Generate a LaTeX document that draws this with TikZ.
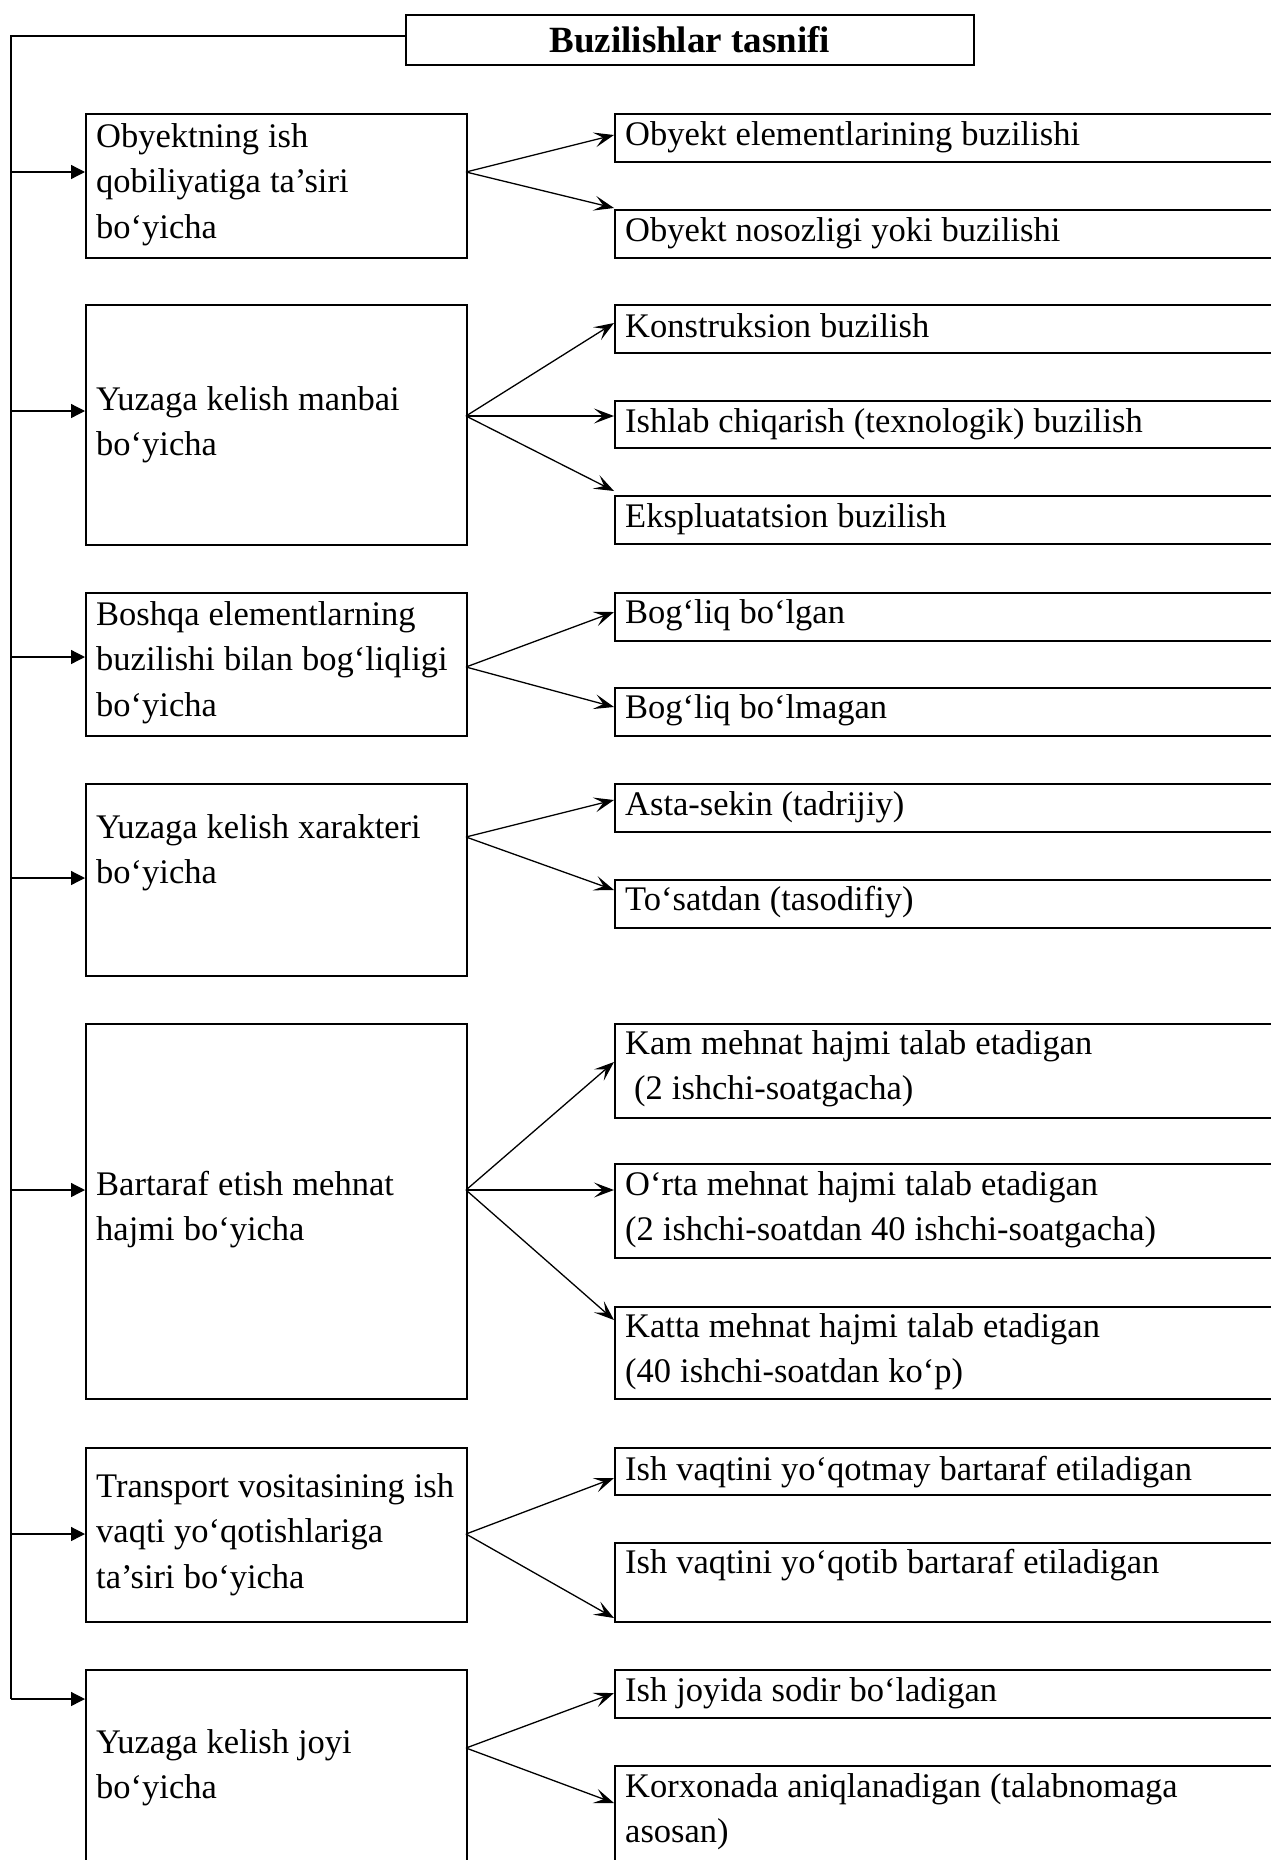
\documentclass[tikz,border=0pt]{standalone}
\usepackage{fontspec}
\setmainfont{Liberation Serif}
\usetikzlibrary{arrows.meta}
\newcommand{\bodyfont}{\fontsize{34.5pt}{45.7pt}\selectfont}
\newcommand{\tightspace}{\spaceskip=9pt plus 2pt minus 1pt\relax\xspaceskip=9pt\relax}
\begin{document}
\begin{tikzpicture}[x=1pt,y=-1pt,
  box/.style={draw, line width=1.6pt, rectangle, inner sep=0pt, anchor=north west},
  lbox/.style={box, minimum width=381pt},
  rbox/.style={box, minimum width=700pt},
  ltxt/.style={inner sep=0pt, anchor=base west, align=left, text width=420pt, font=\bodyfont, execute at begin node=\tightspace},
  rtxt/.style={inner sep=0pt, anchor=base west, align=left, text width=640pt, font=\bodyfont, execute at begin node=\tightspace},
  trunk/.style={line width=1.3pt},
  inarrow/.style={line width=1.3pt, -{Triangle[length=14pt,width=14pt]}},
  outarrow/.style={line width=1.3pt, -{Stealth[length=20pt,width=15pt,inset=9pt]}}
]
\useasboundingbox (0,0) rectangle (1271,1860);
\clip (0,0) rectangle (1271,1860);

% title
\node[box, minimum width=568pt, minimum height=50pt, font=\bfseries\fontsize{37pt}{44pt}\selectfont] (T) at (405,14) {Buzilishlar tasnifi};

% left boxes
\node[lbox, minimum height=144pt] (L1) at (85,113) {};
\node[lbox, minimum height=240pt] (L2) at (85,304) {};
\node[lbox, minimum height=143pt] (L3) at (85,592) {};
\node[lbox, minimum height=192pt] (L4) at (85,783) {};
\node[lbox, minimum height=375pt] (L5) at (85,1023) {};
\node[lbox, minimum height=174pt] (L6) at (85,1447) {};
\node[lbox, minimum height=231pt] (L7) at (85,1669) {};

\node[ltxt] (L1t) at (96,147) {Obyektning ish\\qobiliyatiga ta’siri\\bo‘yicha};
\node[ltxt] (L2t) at (96,410) {Yuzaga kelish manbai\\bo‘yicha};
\node[ltxt] (L3t) at (96,625) {Boshqa elementlarning\\buzilishi bilan bog‘liqligi\\bo‘yicha};
\node[ltxt] (L4t) at (96,838) {Yuzaga kelish xarakteri\\bo‘yicha};
\node[ltxt] (L5t) at (96,1195) {Bartaraf etish mehnat\\hajmi bo‘yicha};
\node[ltxt] (L6t) at (96,1497) {Transport vositasining ish\\vaqti yo‘qotishlariga\\ta’siri bo‘yicha};
\node[ltxt] (L7t) at (96,1753) {Yuzaga kelish joyi\\bo‘yicha};

% right boxes
\node[rbox, minimum height=48pt] (R1a) at (614,113) {};
\node[rbox, minimum height=48pt] (R1b) at (614,209) {};
\node[rbox, minimum height=48pt] (R2a) at (614,304) {};
\node[rbox, minimum height=47pt] (R2b) at (614,400) {};
\node[rbox, minimum height=48pt] (R2c) at (614,495) {};
\node[rbox, minimum height=48pt] (R3a) at (614,592) {};
\node[rbox, minimum height=48pt] (R3b) at (614,687) {};
\node[rbox, minimum height=48pt] (R4a) at (614,783) {};
\node[rbox, minimum height=48pt] (R4b) at (614,879) {};
\node[rbox, minimum height=94pt] (R5a) at (614,1023) {};
\node[rbox, minimum height=94pt] (R5b) at (614,1163) {};
\node[rbox, minimum height=92pt] (R5c) at (614,1306) {};
\node[rbox, minimum height=47pt] (R6a) at (614,1447) {};
\node[rbox, minimum height=79pt] (R6b) at (614,1542) {};
\node[rbox, minimum height=48pt] (R7a) at (614,1669) {};
\node[rbox, minimum height=135pt] (R7b) at (614,1765) {};

\node[rtxt] (R1at) at (625,145) {Obyekt elementlarining buzilishi};
\node[rtxt] (R1bt) at (625,241) {Obyekt nosozligi yoki buzilishi};
\node[rtxt] (R2at) at (625,337) {Konstruksion buzilish};
\node[rtxt] (R2bt) at (625,432) {Ishlab chiqarish (texnologik) buzilish};
\node[rtxt] (R2ct) at (625,527) {Ekspluatatsion buzilish};
\node[rtxt] (R3at) at (625,623) {Bog‘liq bo‘lgan};
\node[rtxt] (R3bt) at (625,718) {Bog‘liq bo‘lmagan};
\node[rtxt] (R4at) at (625,815) {Asta-sekin (tadrijiy)};
\node[rtxt] (R4bt) at (625,910) {To‘satdan (tasodifiy)};
\node[rtxt] (R5at) at (625,1054) {Kam mehnat hajmi talab etadigan\\\ (2 ishchi-soatgacha)};
\node[rtxt] (R5bt) at (625,1195) {O‘rta mehnat hajmi talab etadigan\\(2 ishchi-soatdan 40 ishchi-soatgacha)};
\node[rtxt] (R5ct) at (625,1337) {Katta mehnat hajmi talab etadigan\\(40 ishchi-soatdan ko‘p)};
\node[rtxt] (R6at) at (625,1480) {Ish vaqtini yo‘qotmay bartaraf etiladigan};
\node[rtxt] (R6bt) at (625,1573) {Ish vaqtini yo‘qotib bartaraf etiladigan};
\node[rtxt] (R7at) at (625,1701) {Ish joyida sodir bo‘ladigan};
\node[rtxt] (R7bt) at (625,1797) {Korxonada aniqlanadigan (talabnomaga\\asosan)};

% trunk
\coordinate (c0) at (11,36);
\coordinate (a1) at (11,172);
\coordinate (a2) at (11,411);
\coordinate (a3) at (11,657);
\coordinate (a4) at (11,878);
\coordinate (a5) at (11,1190);
\coordinate (a6) at (11,1534);
\coordinate (a7) at (11,1699);
\draw[trunk] (T.west |- c0) -- (c0) -- (a7);
\draw[inarrow] (a1) -- (a1 -| L1.west);
\draw[inarrow] (a2) -- (a2 -| L2.west);
\draw[inarrow] (a3) -- (a3 -| L3.west);
\draw[inarrow] (a4) -- (a4 -| L4.west);
\draw[inarrow] (a5) -- (a5 -| L5.west);
\draw[inarrow] (a6) -- (a6 -| L6.west);
\draw[inarrow] (a7) -- (a7 -| L7.west);

% branch sources
\coordinate (s1) at (466,172);
\coordinate (s2) at (466,416);
\coordinate (s3) at (466,667);
\coordinate (s4) at (466,837);
\coordinate (s5) at (466,1190);
\coordinate (s6) at (466,1534);
\coordinate (s7) at (466,1748);
% branch targets
\coordinate (t1a) at (614,135);
\coordinate (t1b) at (614,208);
\coordinate (t2a) at (614,323);
\coordinate (t2b) at (614,416);
\coordinate (t2c) at (614,491);
\coordinate (t3a) at (614,612);
\coordinate (t3b) at (614,707);
\coordinate (t4a) at (614,800);
\coordinate (t4b) at (614,890);
\coordinate (t5a) at (614,1062);
\coordinate (t5b) at (614,1190);
\coordinate (t5c) at (614,1320);
\coordinate (t6a) at (614,1478);
\coordinate (t6b) at (614,1618);
\coordinate (t7a) at (614,1693);
\coordinate (t7b) at (614,1803);

\draw[outarrow] (s1) -- (t1a);
\draw[outarrow] (s1) -- (t1b);
\draw[outarrow] (s2) -- (t2a);
\draw[outarrow] (s2) -- (t2b);
\draw[outarrow] (s2) -- (t2c);
\draw[outarrow] (s3) -- (t3a);
\draw[outarrow] (s3) -- (t3b);
\draw[outarrow] (s4) -- (t4a);
\draw[outarrow] (s4) -- (t4b);
\draw[outarrow] (s5) -- (t5a);
\draw[outarrow] (s5) -- (t5b);
\draw[outarrow] (s5) -- (t5c);
\draw[outarrow] (s6) -- (t6a);
\draw[outarrow] (s6) -- (t6b);
\draw[outarrow] (s7) -- (t7a);
\draw[outarrow] (s7) -- (t7b);
\end{tikzpicture}
\end{document}
